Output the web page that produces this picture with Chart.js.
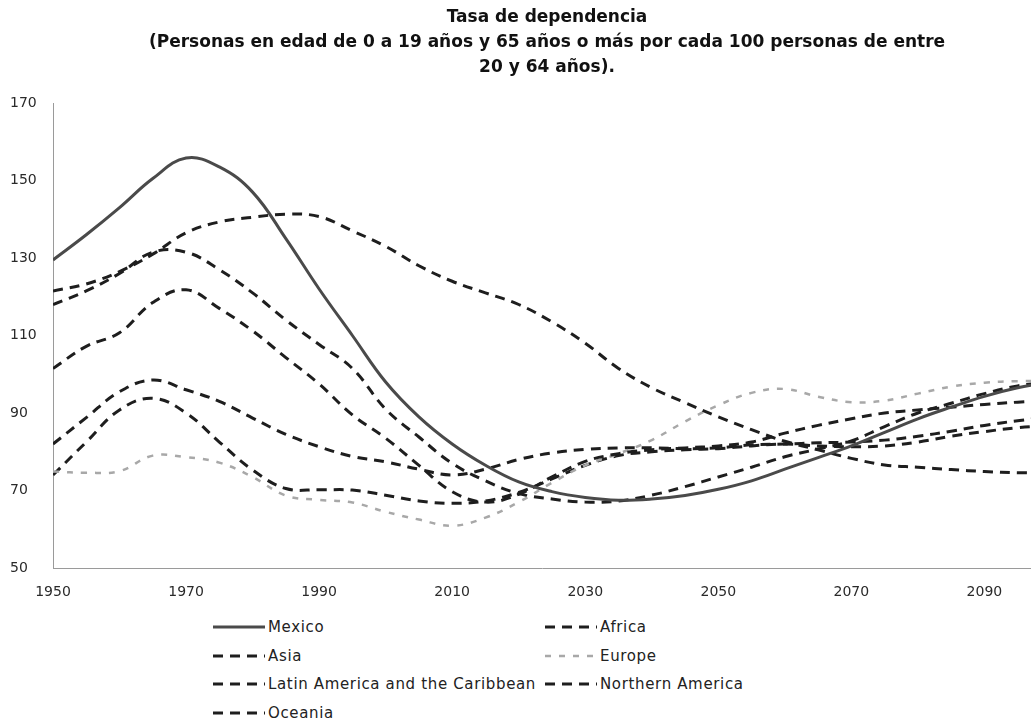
<!DOCTYPE html>
<html>
<head>
<meta charset="utf-8">
<script src="https://cdn.jsdelivr.net/npm/chart.js@4"></script>
<style>
  body { margin: 0; background: #fff; width: 1031px; height: 728px; overflow: hidden; font-family: "DejaVu Sans", sans-serif; }
  #title { position: absolute; left: 47px; width: 1000px; top: 4px; text-align: center; font-size: 17px; font-weight: bold; line-height: 25px; color: #111; }
  #wrap { position: absolute; left: 0; top: 0; width: 1031px; height: 610px; }
  #legend { position: absolute; left: 213px; top: 613px; display: grid; grid-template-columns: 332px auto; grid-auto-rows: 28.5px; font-size: 15px; letter-spacing: 0.65px; color: #222; }
  .item { display: flex; align-items: center; white-space: nowrap; }
  .item svg { margin-right: 3px; }
</style>
</head>
<body>
<div id="wrap"><canvas id="chart"></canvas></div>
<div id="title"></div>
<div id="legend"></div>
<script>
const years = [1950, 1955, 1960, 1965, 1970, 1975, 1980, 1985, 1990, 1995, 2000, 2005, 2010, 2015, 2020, 2025,
  2030, 2035, 2040, 2045, 2050, 2055, 2060, 2065, 2070, 2075, 2080, 2085, 2090, 2095, 2100];
const xTicks = [1950, 1970, 1990, 2010, 2030, 2050, 2070, 2090];

const mexico = [129.5, 136, 143, 150.5, 155.8, 153.5, 147, 135, 122, 110, 98, 89, 82, 76.5, 72.2, 69.7,
  68.2, 67.5, 67.8, 68.7, 70.3, 72.5, 75.5, 78.5, 81.5, 85, 88.5, 91.5, 94.3, 96.5, 98];
const africa = [121.5, 123.3, 126.5, 131, 136.5, 139.3, 140.5, 141.3, 140.7, 137, 133, 128, 124, 121, 118, 113.5,
  108, 101.5, 96.5, 92.7, 89, 85.7, 82.7, 80.5, 78.3, 76.6, 76, 75.4, 74.9, 74.6, 74.5];
const asia = [101.5, 107.2, 110.7, 118.5, 121.8, 117, 111.2, 104.3, 97.5, 89.5, 83.5, 76.5, 69.7, 67, 69, 73.5,
  77.5, 79.5, 80.5, 81, 81.5, 82.5, 84.8, 86.8, 88.5, 90, 90.8, 91.5, 92.2, 92.8, 93.2];
const europe = [74.9, 74.6, 75, 79, 78.6, 77.2, 73.5, 68.7, 67.6, 66.9, 64.5, 62.5, 60.9, 63, 67, 72,
  76.5, 79.5, 83, 87.8, 92, 95.2, 96.2, 94.2, 92.8, 93.2, 95, 96.8, 97.8, 98.2, 98.2];
const latam = [118, 121.5, 126, 131.5, 131.5, 127, 121, 114, 107.7, 101.5, 91, 83.8, 77, 72.5, 69.2, 67.8,
  67, 67.3, 68.8, 71, 73.5, 76, 78.7, 80.7, 82.8, 86.5, 90, 92.5, 95, 97, 98];
const northAm = [74, 82.5, 90.8, 93.8, 90, 82.5, 75.3, 70.5, 70.2, 70.1, 68.8, 67.3, 66.7, 67.3, 69.5, 73,
  76.5, 79, 80, 80.5, 80.8, 81.5, 82, 81.5, 81.3, 81.5, 82.5, 84, 85.2, 86.2, 86.8];
const oceania = [82, 88.8, 95.5, 98.5, 96, 93, 88.7, 84.5, 81.3, 78.8, 77.4, 75.5, 74, 75.5, 78, 79.7,
  80.6, 81, 81, 80.8, 81, 81.8, 82, 82.3, 82.5, 83, 84, 85.3, 86.8, 88, 89];

const titleLines = [
  'Tasa de dependencia',
  '(Personas en edad de 0 a 19 años y 65 años o más por cada 100 personas de entre',
  '20 y 64 años).'
];

const SOLID = '#4a4a4a', DARK = '#1e1e1e', LIGHT = '#a8a8a8';
const DASH = [10, 7], FINE = [6, 8];

function series(label, values, color, dash, width) {
  return {
    label,
    data: years.map((y, i) => ({ x: y, y: values[i] })),
    borderColor: color,
    borderDash: dash,
    borderWidth: width,
    pointRadius: 0,
    tension: 0.4,
    fill: false
  };
}

const datasets = [
  series('Mexico', mexico, SOLID, [], 3),
  series('Africa', africa, DARK, DASH, 3),
  series('Asia', asia, DARK, DASH, 3),
  series('Europe', europe, LIGHT, FINE, 2.5),
  series('Latin America and the Caribbean', latam, DARK, DASH, 3),
  series('Northern America', northAm, DARK, DASH, 3),
  series('Oceania', oceania, DARK, DASH, 3)
];

const tickFont = { family: 'DejaVu Sans', size: 14 };

new Chart(document.getElementById('chart'), {
  type: 'line',
  data: { datasets },
  options: {
    responsive: true,
    maintainAspectRatio: false,
    animation: false,
    layout: { padding: { left: 10, right: 0, top: 103, bottom: 0 } },
    plugins: {
      legend: { display: false },
      tooltip: { enabled: false }
    },
    scales: {
      x: {
        type: 'linear',
        min: 1950,
        max: 2097,
        afterBuildTicks: s => { s.ticks = xTicks.map(v => ({ value: v })); },
        afterFit: s => { s.height = 42; },
        grid: { display: false },
        border: { display: true, color: '#9a9a9a', width: 1, dash: [2, 2] },
        ticks: { color: '#2a2a2a', font: tickFont, padding: 8, maxRotation: 0, callback: v => String(v) }
      },
      y: {
        min: 50,
        max: 170,
        afterFit: s => { s.width = 43; },
        grid: { display: false },
        border: { display: true, color: '#9a9a9a', width: 1, dash: [2, 2] },
        ticks: { color: '#2a2a2a', font: tickFont, stepSize: 20, crossAlign: 'far', padding: 8 }
      }
    }
  }
});

document.getElementById('title').innerHTML = titleLines.join('<br>');

const legend = document.getElementById('legend');
datasets.forEach(d => {
  const dash = d.borderDash.length ? `stroke-dasharray="${d.borderDash.join(' ')}"` : '';
  const el = document.createElement('div');
  el.className = 'item';
  el.innerHTML = `<svg width="52" height="10"><line x1="0" y1="5" x2="52" y2="5" stroke="${d.borderColor}" stroke-width="${d.borderWidth}" ${dash}/></svg><span>${d.label}</span>`;
  legend.appendChild(el);
});
</script>
</body>
</html>
